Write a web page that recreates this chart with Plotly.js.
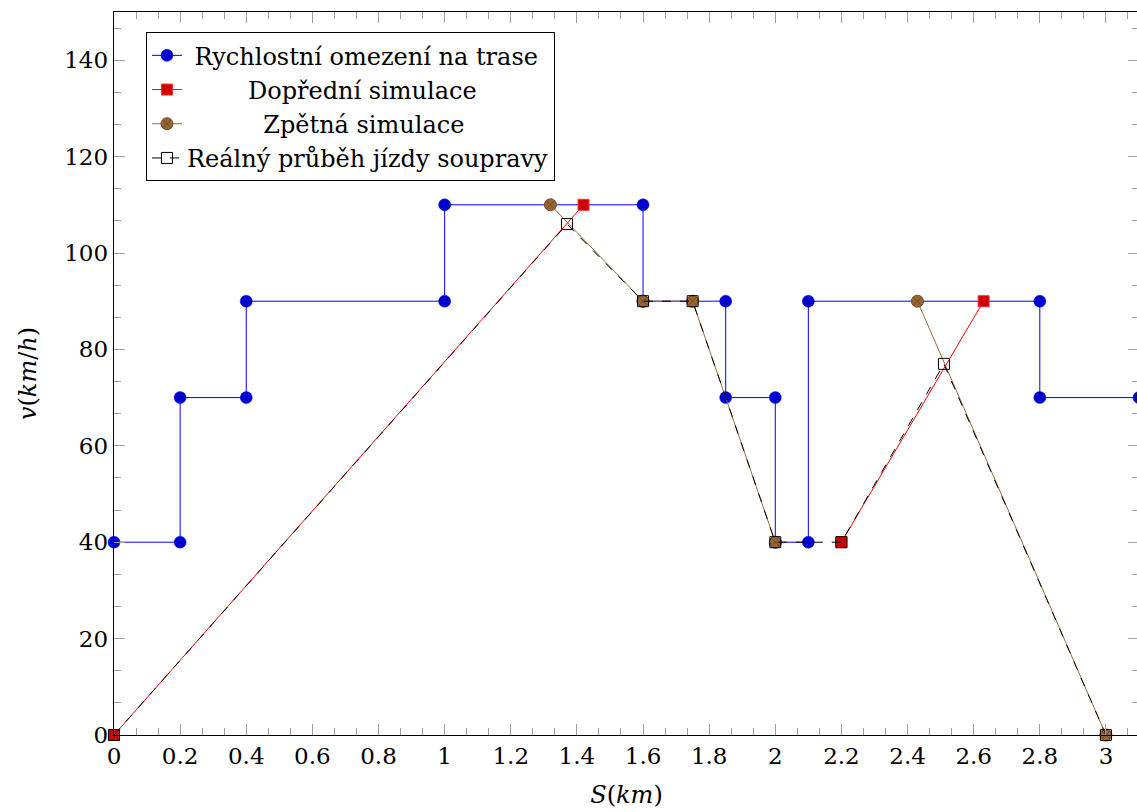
<!DOCTYPE html>
<html>
<head>
<meta charset="utf-8">
<script src="https://cdn.plot.ly/plotly-3.0.1.min.js"></script>
<style>
html, body { margin: 0; padding: 0; overflow: hidden; background: #fff; }
#chart { width: 1139px; height: 812px; }
</style>
</head>
<body>
<div id="chart"></div>
<script>
// Speed limit on the track
const limitS = [0, 0.2, 0.2, 0.4, 0.4, 1, 1, 1.6, 1.6, 1.85, 1.85, 2, 2, 2.1, 2.1, 2.8, 2.8, 3.1];
const limitV = [40, 40, 70, 70, 90, 90, 110, 110, 90, 90, 70, 70, 40, 40, 90, 90, 70, 70];
// Forward simulation
const forwardS = [0, 1.42, null, 2.2, 2.63];
const forwardV = [0, 110, null, 40, 90];
// Backward simulation
const backwardS = [1.32, 1.6, 1.75, 2, null, 2.43, 3];
const backwardV = [110, 90, 90, 40, null, 90, 0];
// Real run of the train
const realS = [0, 1.37, 1.6, 1.75, 2, 2.2, 2.51, 3];
const realV = [0, 106, 90, 90, 40, 40, 77, 0];

const names = [
  'Rychlostní omezení na trase',
  'Dopřední simulace',
  'Zpětná simulace',
  'Reálný průběh jízdy soupravy'
];
const xTicks = [0, 0.2, 0.4, 0.6, 0.8, 1, 1.2, 1.4, 1.6, 1.8, 2, 2.2, 2.4, 2.6, 2.8, 3];
const xTickText = ['0', '0.2', '0.4', '0.6', '0.8', '1', '1.2', '1.4', '1.6', '1.8', '2', '2.2', '2.4', '2.6', '2.8', '3'];
const yTicks = [0, 20, 40, 60, 80, 100, 120, 140];

const NB = '\u00A0';
function pad(n) { return NB.repeat(n); }

const FONT = 'DejaVu Serif';

const traces = [
  {
    x: limitS, y: limitV, name: pad(1) + names[0], mode: 'lines+markers',
    line: { color: '#0000ff', width: 1 },
    marker: { symbol: 'circle', size: 12, color: '#0000cc', line: { color: '#0000ff', width: 0.5 } },
    cliponaxis: false
  },
  {
    x: forwardS, y: forwardV, name: pad(8) + names[1], mode: 'lines+markers',
    line: { color: '#ff0000', width: 1 },
    marker: { symbol: 'square', size: 11, color: '#cc0000', line: { color: '#ff3030', width: 1 } },
    connectgaps: false, cliponaxis: false
  },
  {
    x: backwardS, y: backwardV, name: pad(10) + names[2], mode: 'lines+markers',
    line: { color: '#9a6a3a', width: 1 },
    marker: { symbol: 'circle-x', size: 12, color: '#996633', line: { color: '#6b4a28', width: 1 } },
    connectgaps: false, cliponaxis: false
  },
  {
    x: realS, y: realV, name: names[3], mode: 'lines+markers',
    line: { color: '#000000', width: 1, dash: '9px,9px' },
    marker: { symbol: 'square-open', size: 11, color: '#000000', line: { color: '#333333', width: 1 } },
    cliponaxis: false
  }
];

const layout = {
  width: 1139, height: 812,
  margin: { l: 114, r: 0, t: 12, b: 77 },
  paper_bgcolor: '#ffffff', plot_bgcolor: '#ffffff',
  font: { family: FONT, size: 23, color: '#000000' },
  showlegend: true,
  legend: {
    x: 0.0312, y: 0.972, xanchor: 'left', yanchor: 'top',
    bgcolor: '#ffffff', bordercolor: '#000000', borderwidth: 1,
    font: { family: FONT, size: 24, color: '#000000' },
    tracegroupgap: 0
  },
  xaxis: {
    range: [0, 3.1], showgrid: false, zeroline: false,
    showline: true, linecolor: '#000000', linewidth: 1.3, mirror: 'ticks',
    ticks: 'inside', ticklen: 11, tickcolor: '#a0a0a0', tickwidth: 1,
    tickmode: 'array', tickvals: xTicks, ticktext: xTickText,
    tickfont: { family: FONT, size: 23, color: '#000000' },
    minor: { dtick: 0.2 / 3, tick0: 0, ticks: 'inside', ticklen: 7, tickcolor: '#a0a0a0', tickwidth: 1, showgrid: false },
    title: { text: '<i>S</i>(<i>km</i>)', font: { family: FONT, size: 24, color: '#000000' }, standoff: 18 },
    automargin: false
  },
  yaxis: {
    range: [0, 150], showgrid: false, zeroline: false,
    showline: true, linecolor: '#000000', linewidth: 1.3, mirror: 'ticks',
    ticks: 'inside', ticklen: 11, tickcolor: '#a0a0a0', tickwidth: 1,
    tickmode: 'array', tickvals: yTicks,
    tickfont: { family: FONT, size: 23, color: '#000000' },
    minor: { dtick: 20 / 3, tick0: 0, ticks: 'inside', ticklen: 7, tickcolor: '#a0a0a0', tickwidth: 1, showgrid: false },
    title: { text: '<i>v</i>(<i>km</i>/<i>h</i>)', font: { family: FONT, size: 24, color: '#000000' }, standoff: 20 },
    automargin: false
  }
};

Plotly.newPlot('chart', traces, layout, { staticPlot: true, displayModeBar: false });
</script>
</body>
</html>
